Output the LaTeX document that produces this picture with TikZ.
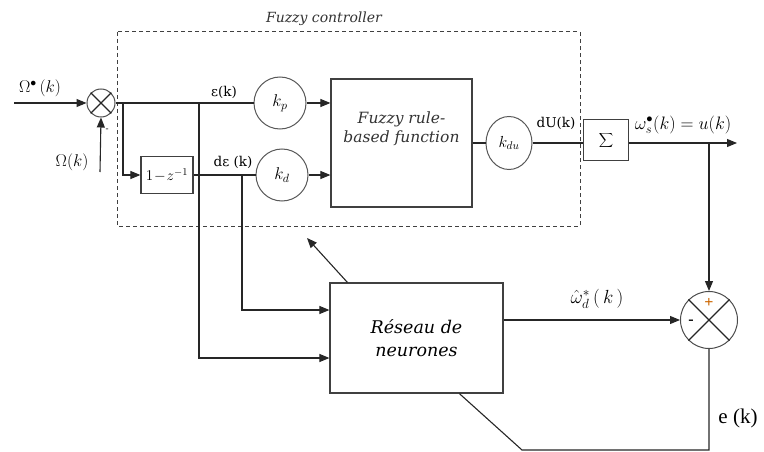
\documentclass[tikz,border=0pt]{standalone}
\usepackage{fix-cm}
\usepackage{fontspec}
\setmainfont{Liberation Serif}
\newfontfamily\dvs{DejaVu Serif}
\usetikzlibrary{arrows.meta,calc,shapes.geometric}
\begin{document}
\begin{tikzpicture}[x=1pt,y=-1pt,
 line/.style={line width=1.1pt, draw=black!85},
 arr/.style={line, -{Triangle[length=10pt,width=8pt]}},
 gain/.style={circle, draw=black!65, line width=1pt, minimum size=52pt, inner sep=0pt, font=\fontsize{17}{19}\selectfont},
 blk/.style={rectangle, draw=black!75, line width=1.2pt, inner sep=0pt},
 sumj/.style={circle, draw=black!70, line width=1pt, inner sep=0pt},
 lbl/.style={font=\dvs\fontsize{13.5}{15}\selectfont, inner sep=0pt},
 mlbl/.style={font=\fontsize{17}{19}\selectfont, inner sep=0pt}
]
\useasboundingbox (0,0) rectangle (764,452);
% fuzzy controller frame
\draw[line width=1pt, draw=black!75, dash pattern=on 4pt off 3pt] (117,32) rectangle (580,226);
\node[inner sep=0pt, font=\dvs\itshape\fontsize{14}{16}\selectfont, text=black!80] (title) at (324,19) {Fuzzy controller};

% first summing junction
\node[sumj, minimum size=28pt] (s1) at (101,103) {};
\draw[line] (s1.45) -- (s1.225) (s1.135) -- (s1.-45);
\coordinate (in1) at (14,103);
\coordinate (in2) at (100,172);
\draw[arr] (in1) -- (s1.west);
\draw[arr] (in2) -- (s1.south);
\node[mlbl] (lOm1) at (40,88) {$\Omega^{\bullet}\,(k)$};
\node[mlbl] (lOm2) at (72,162) {$\Omega(k)$};
\node[inner sep=0pt, font=\fontsize{9}{10}\selectfont] (minus1) at (107,130) {-};

% blocks
\node[gain] (kp) at (280,103) {$k_p$};
\node[gain] (kd) at (282,175) {$k_d$};
\node[blk, minimum width=52pt, minimum height=37pt, font=\fontsize{15}{17}\selectfont] (dz) at (167,175) {$1\!-\!z^{-1}$};
\node[blk, minimum width=141pt, minimum height=128pt, align=center, font=\dvs\itshape\fontsize{15.5}{19}\selectfont, text=black!80] (fz) at (401.5,143) {Fuzzy rule-\\based function\\[12pt]};
\node[ellipse, draw=black!65, line width=1pt, minimum width=46pt, minimum height=53pt, inner sep=0pt, font=\fontsize{16}{18}\selectfont] (kdu) at (509,143) {$k_{du}$};
\node[blk, minimum width=45pt, minimum height=41pt, font=\fontsize{18}{20}\selectfont] (sig) at (606,140) {$\displaystyle\sum$};
\node[blk, minimum width=173pt, minimum height=110pt, align=center, font=\dvs\itshape\fontsize{17.5}{23}\selectfont] (nn) at (416.5,338) {R\'eseau de\\neurones};
\node[sumj, minimum size=57pt] (cmp) at (709,320) {};
\draw[line] (cmp.45) -- (cmp.225) (cmp.135) -- (cmp.-45);
\node[inner sep=0pt, font=\bfseries\fontsize{16}{18}\selectfont, text=orange!80!black] (plus2) at (709,303) {+};
\node[inner sep=0pt, font=\bfseries\fontsize{16}{18}\selectfont] (minus2) at (691,322) {-};

% forward path
\coordinate (b1) at (123,103);
\coordinate (b2) at (199,103);
\coordinate (b3) at (242,175);
\draw[line] (s1.east) -- (kp.west);
\draw[arr] (b1) |- (dz.west);
\draw[line] (dz.east) -- (kd.west);
\draw[arr] (kp.east) -- (kp.east -| fz.west);
\draw[arr] (kd.east) -- (kd.east -| fz.west);
\draw[line] (fz.east |- kdu) -- (kdu.west);
\draw[line] (kdu.east) -- (kdu.east -| sig.west);
\coordinate (out) at (737,143);
\coordinate (b4) at (709,143);
\draw[arr] (sig.east |- out) -- (out);
\draw[arr] (b4) -- (cmp.north);

% neural network connections
\draw[arr] (b3) |- ($(nn.west)+(0,-28)$);
\draw[arr] (b2) |- ($(nn.west)+(0,20)$);
\coordinate (adapt) at (307,238);
\draw[arr] ($(nn.north west)+(18,0)$) -- (adapt);
\draw[arr] (cmp.west -| nn.east) -- (cmp.west);
\coordinate (fb1) at (709,450);
\coordinate (fb2) at (522,450);
\draw[line] (cmp.south) -- (fb1) -- (fb2) -- ($(nn.south west)+(130,0)$);

% labels
\node[lbl] (leps) at (224,92) {ε(k)};
\node[lbl] (ldeps) at (233,162) {dε (k)};
\node[lbl] (ldU) at (556,123) {dU(k)};
\node[inner sep=0pt, font=\fontsize{18}{20}\selectfont] (lout) at (683,125) {$\omega^{\bullet}_{s}(k)=u(k)$};
\node[inner sep=0pt, font=\fontsize{19}{21}\selectfont] (lhat) at (597,299) {$\hat{\omega}^{*}_{d}\left(\,k\,\right)$};
\node[inner sep=0pt, font=\fontsize{21}{23}\selectfont] (le) at (738,418) {e (k)};
\end{tikzpicture}
\end{document}
